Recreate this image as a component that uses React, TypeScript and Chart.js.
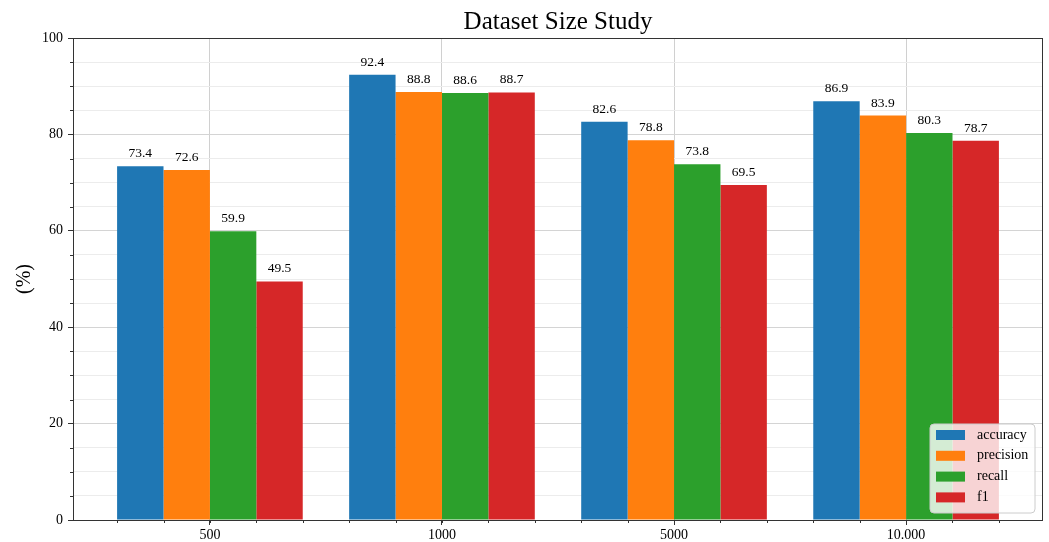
import React, { useEffect, useRef } from "react";
import { Chart, registerables } from "chart.js";

Chart.register(...registerables);

const categories = ["500", "1000", "5000", "10.000"];
const seriesNames = ["accuracy", "precision", "recall", "f1"];
const accuracy = [73.4, 92.4, 82.6, 86.9];
const precision = [72.6, 88.8, 78.8, 83.9];
const recall = [59.9, 88.6, 73.8, 80.3];
const f1 = [49.5, 88.7, 69.5, 78.7];
const colors = ["#1f77b4", "#ff7f0e", "#2ca02c", "#d62728"];
const yTickLabels = [0, 20, 40, 60, 80, 100];

const FONT = "'Liberation Serif', 'DejaVu Serif', serif";

export default function App() {
  const ref = useRef<HTMLCanvasElement | null>(null);

  useEffect(() => {
    document.body.style.margin = "0";
    const canvas = ref.current;
    if (!canvas) return;
    const values = [accuracy, precision, recall, f1];

    const overlay = {
      id: "overlay",
      afterDatasetsDraw(chart: any) {
        const ctx = chart.ctx;
        ctx.save();
        ctx.fillStyle = "#000";
        ctx.font = `13.5px ${FONT}`;
        ctx.textAlign = "center";
        ctx.textBaseline = "alphabetic";
        chart.data.datasets.forEach((ds: any, i: number) => {
          const meta = chart.getDatasetMeta(i);
          meta.data.forEach((el: any, j: number) => {
            const v = ds.data[j].y;
            ctx.fillText(v.toFixed(1), el.x, el.y - 9);
          });
        });
        ctx.restore();
      },
      afterDraw(chart: any) {
        const ctx = chart.ctx;
        const a = chart.chartArea;
        const ys = chart.scales.y;
        ctx.save();
        ctx.strokeStyle = "#333";
        ctx.lineWidth = 1;
        // minor x ticks at bar edges
        const metaL = chart.getDatasetMeta(chart.data.datasets.length - 1);
        const minorX: number[] = [];
        chart.data.datasets.forEach((_: any, i: number) => {
          chart.getDatasetMeta(i).data.forEach((el: any) => minorX.push(el.x - el.width / 2));
        });
        metaL.data.forEach((el: any) => minorX.push(el.x + el.width / 2));
        minorX.forEach((x) => {
          const xl = Math.round(x) + 0.5;
          ctx.beginPath();
          ctx.moveTo(xl, a.bottom);
          ctx.lineTo(xl, a.bottom + 3);
          ctx.stroke();
        });
        // minor y ticks
        for (let v = 5; v < 100; v += 5) {
          if (v % 20 === 0) continue;
          const y = Math.round(ys.getPixelForValue(v)) + 0.5;
          ctx.beginPath();
          ctx.moveTo(a.left, y);
          ctx.lineTo(a.left - 3, y);
          ctx.stroke();
        }
        // spines
        ctx.strokeRect(a.left + 0.5, a.top + 0.5, a.right - a.left - 1, a.bottom - a.top);
        // title
        ctx.fillStyle = "#000";
        ctx.font = `25px ${FONT}`;
        ctx.textAlign = "center";
        ctx.textBaseline = "alphabetic";
        ctx.fillText("Dataset Size Study", (a.left + a.right) / 2, 28.5);
        // y label
        ctx.save();
        ctx.translate(25, (a.top + a.bottom) / 2);
        ctx.rotate(-Math.PI / 2);
        ctx.font = `20px ${FONT}`;
        ctx.textBaseline = "middle";
        ctx.fillText("(%)", 0, 0);
        ctx.restore();
        // legend
        const lx = 930, ly = 424, lw = 105, lh = 89;
        ctx.beginPath();
        const r = 4;
        ctx.moveTo(lx + r, ly);
        ctx.lineTo(lx + lw - r, ly);
        ctx.quadraticCurveTo(lx + lw, ly, lx + lw, ly + r);
        ctx.lineTo(lx + lw, ly + lh - r);
        ctx.quadraticCurveTo(lx + lw, ly + lh, lx + lw - r, ly + lh);
        ctx.lineTo(lx + r, ly + lh);
        ctx.quadraticCurveTo(lx, ly + lh, lx, ly + lh - r);
        ctx.lineTo(lx, ly + r);
        ctx.quadraticCurveTo(lx, ly, lx + r, ly);
        ctx.closePath();
        ctx.fillStyle = "rgba(255,255,255,0.8)";
        ctx.fill();
        ctx.strokeStyle = "#cccccc";
        ctx.stroke();
        ctx.font = `14px ${FONT}`;
        ctx.textAlign = "left";
        ctx.textBaseline = "middle";
        seriesNames.forEach((n, i) => {
          const cy = 435 + i * 20.8;
          ctx.fillStyle = colors[i];
          ctx.fillRect(936, cy - 5, 29, 10);
          ctx.fillStyle = "#000";
          ctx.fillText(n, 977, cy);
        });
        ctx.restore();
      },
    };

    const chart = new Chart(canvas, {
      type: "bar",
      data: {
        datasets: seriesNames.map((name, i) => ({
          label: name,
          data: values[i].map((v, j) => ({ x: j, y: v })),
          backgroundColor: colors[i],
          borderWidth: 0,
          barPercentage: 1,
          categoryPercentage: 0.8,
          grouped: true,
        })),
      },
      options: {
        animation: false,
        responsive: false,
        maintainAspectRatio: false,
        layout: { padding: { left: 0, top: 38, right: 6, bottom: 0 } },
        plugins: {
          legend: { display: false },
          title: { display: false },
          tooltip: { enabled: false },
        },
        scales: {
          x: {
            type: "linear",
            min: -0.59,
            max: 3.59,
            offset: false,
            afterFit: (s: any) => {
              s.height = 22;
            },
            afterBuildTicks: (axis: any) => {
              axis.ticks = [0, 1, 2, 3].map((v) => ({ value: v }));
            },
            border: { display: false },
            grid: {
              offset: false,
              color: "#d0d0d0",
              tickColor: "#333",
              tickLength: 5,
              lineWidth: 1,
            },
            ticks: {
              autoSkip: false,
              maxRotation: 0,
              padding: 2,
              color: "#000",
              font: { family: FONT, size: 14 },
              callback: (v: any) => categories[Math.round(Number(v))] ?? "",
            },
          },
          y: {
            min: 0,
            max: 100,
            afterFit: (s: any) => {
              s.width = 73;
            },
            afterBuildTicks: (axis: any) => {
              const t: any[] = [];
              for (let v = 0; v <= 100; v += 5) t.push({ value: v });
              axis.ticks = t;
            },
            border: { display: false },
            grid: {
              color: (c: any) => {
                const v = c.tick ? c.tick.value : 0;
                return v % 20 === 0 ? "#d4d4d4" : "#ececec";
              },
              tickColor: (c: any) => {
                const v = c.tick ? c.tick.value : 0;
                return v % 20 === 0 ? "#333" : "rgba(0,0,0,0)";
              },
              tickLength: 5,
              lineWidth: 1,
            },
            ticks: {
              autoSkip: false,
              padding: 5,
              color: "#000",
              font: { family: FONT, size: 14 },
              callback: (v: any) => (yTickLabels.includes(Number(v)) ? String(v) : ""),
            },
          },
        },
      },
      plugins: [overlay],
    });
    return () => chart.destroy();
  }, []);

  return (
    <div style={{ position: "absolute", left: 0, top: 0, width: 1049, height: 542, background: "#fff" }}>
      <canvas ref={ref} width={1049} height={542} style={{ width: 1049, height: 542 }} />
    </div>
  );
}
